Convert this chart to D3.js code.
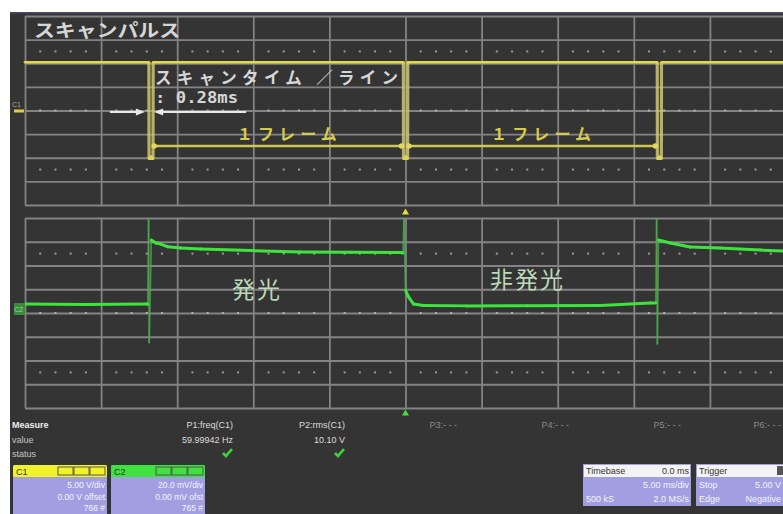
<!DOCTYPE html>
<html>
<head>
<meta charset="utf-8">
<script src="https://cdn.jsdelivr.net/npm/d3@7"></script>
<style>
  html, body { margin: 0; padding: 0; background: #ffffff; }
  svg { display: block; }
  .ui { font-family: "Liberation Sans", "DejaVu Sans", sans-serif; }
  .jp { font-family: "Noto Sans CJK JP", "Noto Sans", sans-serif; }
</style>
</head>
<body>
<svg id="scope" width="783" height="514"></svg>
<script>
// ---- Acquisition data -------------------------------------------------
// Time in ms relative to the trigger point, 5 ms/div, 10 divisions.
// C1: scan pulse (volts), 5.00 V/div
const c1Time  = [-25, -16.86, -16.85, -16.59, -16.58, -0.14, -0.13, 0.14, 0.15, 16.54, 16.55, 16.81, 16.82, 25.2];
const c1Volts = [10.2, 10.2, -10.2, -10.2, 10.2, 10.2, -10.2, -10.2, 10.2, 10.2, -10.2, -10.2, 10.2, 10.2];

// C2: light output (mV), 20.0 mV/div
const c2Time = [-25, -21, -17.0, -16.93, -16.88, -16.84, -16.7, -16.4, -16.08, -15.62, -14.76, -13.45,
                -10.17, -6.89, -3.61, -0.33, -0.16, -0.1, 0.0, 0.2, 0.52, 1.18, 4, 8, 12.8, 16.08,
                16.45, 16.5, 16.55, 16.62, 17.4, 18.7, 20.67, 23.3, 25.2];
const c2mV   = [7.6, 7.2, 7.5, 7.4, 80, -25.5, 61.5, 58.9, 58.0, 55.8, 54.7, 53.9,
                52.6, 51.4, 51.2, 50.9, 50.5, 80, 19, 13.5, 7.6, 6.3, 6.0, 6.2, 6.4, 8.4,
                8.5, 80, -26.5, 61.5, 59.0, 55.6, 54.7, 53.0, 52.0];

// Frame markers (ms): the scan pulse edges used by the annotations
const frameEdges = [-16.86, -0.13, 16.55];
const pulseWidthMs = 0.28;

// Grid divisions
const timeDivs = d3.range(-25, 26, 5);          // 5 ms/div
const c1Divs   = d3.range(-20, 21, 5);          // 5 V/div
const c2Divs   = d3.range(-80, 81, 20);         // 20 mV/div
const dotRowsDiv = [-2.5, 0, 2.5];              // rows carrying minor tick dots

// Labels
const titleText   = "スキャンパルス";
const scanLabel   = "スキャンタイム ／ライン";
const scanValue   = ": 0.28ms";
const frameLabel  = "１フレーム";
const litLabel    = "発光";
const unlitLabel  = "非発光";

const measureNames  = ["P1:freq(C1)", "P2:rms(C1)", "P3:- - -", "P4:- - -", "P5:- - -", "P6:- - -"];
const measureValues = ["59.99942 Hz", "10.10 V", "", "", "", ""];
const measureOk     = [true, true, false, false, false, false];

const chanNames  = ["C1", "C2"];
const chanScale  = ["5.00 V/div", "20.0 mV/div"];
const chanOffset = ["0.00 V offset", "0.00 mV ofst"];
const chanPoints = ["766 #", "765 #"];
const chanColors = ["#f2f22a", "#3fe23f"];

const timebaseRows = [["Timebase", "0.0 ms"], ["", "5.00 ms/div"], ["500 kS", "2.0 MS/s"]];
const triggerRows  = [["Trigger", ""], ["Stop", "5.00 V"], ["Edge", "Negative"]];

// ---- Layout -------------------------------------------------------------
const svg = d3.select("#scope");
const W = 783, H = 514;

svg.append("rect").attr("x", 10).attr("y", 12).attr("width", W - 10).attr("height", H - 12)
   .attr("fill", "#343434");
svg.append("rect").attr("x", 10).attr("y", 12).attr("width", W - 10).attr("height", 1.6)
   .attr("fill", "#4a4a66");

const x = d3.scaleLinear().domain([-25, 25]).range([25, 786]);
const yTop = d3.scaleLinear().domain([-20, 20]).range([205, 16]);
const yBot = d3.scaleLinear().domain([-80, 80]).range([408, 218]);

const gridColor = "#838383";

function drawGrid(y, divs, perDiv) {
  const g = svg.append("g");
  const [y0, y1] = y.range();
  // horizontal grid via axis ticks
  const hAxis = d3.axisLeft(y).tickValues(divs).tickSize(-(x.range()[1] - x.range()[0])).tickFormat("");
  const ha = g.append("g").attr("transform", `translate(${x.range()[0]},0)`).call(hAxis);
  ha.select(".domain").remove();
  ha.selectAll(".tick line").attr("stroke", gridColor).attr("stroke-width", 1.8);
  // vertical grid via axis ticks
  const vAxis = d3.axisTop(x).tickValues(timeDivs).tickSize(-(y0 - y1)).tickFormat("");
  const va = g.append("g").attr("transform", `translate(0,${y1})`).call(vAxis);
  va.select(".domain").remove();
  va.selectAll(".tick line").attr("stroke", gridColor).attr("stroke-width", 1.8);
  // minor tick dots (1/5 division)
  const minor = d3.range(-25, 25.01, 1).filter(t => Math.abs(t % 5) > 0.01);
  dotRowsDiv.forEach(d => {
    const yy = y(d * perDiv);
    g.selectAll(null).data(minor).join("rect")
      .attr("x", t => x(t) - 1).attr("y", yy - 1)
      .attr("width", 2).attr("height", 2)
      .attr("fill", d === 0 ? "#b0b0b0" : "#9a9a9a");
  });
}
drawGrid(yTop, c1Divs, 5);
drawGrid(yBot, c2Divs, 20);

// ---- Traces -------------------------------------------------------------
// Steep segments (fast edges) are drawn dimmer, as on a phosphor display.
function drawTrace(parent, times, vals, y, bright, dim, wBright, wDim) {
  const pts = times.map((t, i) => [x(t), y(vals[i])]);
  const segs = d3.pairs(pts);
  const steep = s => Math.abs(s[1][1] - s[0][1]) > 2.2 * Math.abs(s[1][0] - s[0][0]) + 2;
  parent.selectAll(null).data(segs.filter(steep)).join("line")
    .attr("x1", s => s[0][0]).attr("y1", s => s[0][1])
    .attr("x2", s => s[1][0]).attr("y2", s => s[1][1])
    .attr("stroke", dim).attr("stroke-width", wDim);
  parent.selectAll(null).data(segs.filter(s => !steep(s))).join("line")
    .attr("x1", s => s[0][0]).attr("y1", s => s[0][1])
    .attr("x2", s => s[1][0]).attr("y2", s => s[1][1])
    .attr("stroke", bright).attr("stroke-width", wBright).attr("stroke-linecap", "round");
}

svg.append("defs").append("clipPath").attr("id", "botclip")
   .append("rect").attr("x", 25).attr("y", 218).attr("width", 770).attr("height", 190);

drawTrace(svg.append("g"), c1Time, c1Volts, yTop, "#e4da3a", "rgba(206,200,108,0.85)", 2.6, 3.2);
drawTrace(svg.append("g").attr("clip-path", "url(#botclip)"), c2Time, c2mV, yBot,
          "#3ee43e", "rgba(78,170,78,0.8)", 3, 1.6);

// ---- Channel markers on the left edge -------------------------------------
svg.append("text").attr("class", "ui").attr("x", 12).attr("y", 107)
   .attr("font-size", 7).attr("fill", "#a8a890").text("C1");
svg.append("rect").attr("x", 14).attr("y", yTop(0) - 1).attr("width", 10).attr("height", 3)
   .attr("fill", "#d8d040");
svg.append("rect").attr("x", 14).attr("y", 303).attr("width", 11).attr("height", 12)
   .attr("fill", "#3c8a3c");
svg.append("text").attr("class", "ui").attr("x", 14).attr("y", 312)
   .attr("font-size", 7).attr("fill", "#9fd89f").text("C2");

// Trigger position markers
const tri = d3.symbol().type(d3.symbolTriangle).size(22);
svg.append("path").attr("d", tri).attr("transform", `translate(${x(0)},212.5)`).attr("fill", "#e6dc3c");
svg.append("path").attr("d", tri).attr("transform", `translate(${x(0)},413.5)`).attr("fill", "#3ee43e");

// ---- Annotations ----------------------------------------------------------
svg.append("text").attr("class", "jp").attr("x", 34).attr("y", 37)
   .attr("font-size", 18).attr("font-weight", 700).attr("fill", "#d6d6d6")
   .attr("textLength", 146).attr("lengthAdjust", "spacingAndGlyphs").text(titleText);

svg.append("text").attr("class", "jp").attr("x", 155).attr("y", 84)
   .attr("font-size", 16.5).attr("font-weight", 700).attr("fill", "#d6d6d6")
   .attr("textLength", 243).attr("lengthAdjust", "spacing").text(scanLabel);
svg.append("text").attr("x", 155).attr("y", 103)
   .attr("font-family", "DejaVu Sans Mono, monospace")
   .attr("font-size", 16).attr("font-weight", 700).attr("fill", "#d6d6d6")
   .attr("textLength", 83).attr("lengthAdjust", "spacingAndGlyphs").text(scanValue);

// white arrows pointing at the pulse edges
const arrowY = yTop(0) + 1.5;
function arrow(xFrom, xTo) {
  const dir = Math.sign(xTo - xFrom);
  svg.append("line").attr("x1", xFrom).attr("y1", arrowY).attr("x2", xTo - dir * 6).attr("y2", arrowY)
     .attr("stroke", "#e8e8e8").attr("stroke-width", 2);
  svg.append("path")
     .attr("d", `M${xTo},${arrowY} L${xTo - dir * 9},${arrowY - 3.5} L${xTo - dir * 9},${arrowY + 3.5} Z`)
     .attr("fill", "#e8e8e8");
}
arrow(x(frameEdges[0]) - 39, x(frameEdges[0]) - 4);
arrow(x(frameEdges[0] + pulseWidthMs) + 93, x(frameEdges[0] + pulseWidthMs) + 1);

// frame-period arrows
const frameY = 146;
d3.pairs(frameEdges).forEach(([a, b]) => {
  const xa = x(a + pulseWidthMs) + 1, xb = x(b) - 2;
  svg.append("line").attr("x1", xa).attr("y1", frameY).attr("x2", xb).attr("y2", frameY)
     .attr("stroke", "#cfc752").attr("stroke-width", 2.6);
  [xa, xb].forEach(xx => svg.append("circle").attr("cx", xx).attr("cy", frameY).attr("r", 2.8)
     .attr("fill", "#e0d85a"));
  svg.append("text").attr("class", "jp").attr("x", (xa + xb) / 2 + 9).attr("y", 140)
     .attr("text-anchor", "middle")
     .attr("font-size", 16).attr("font-weight", 700).attr("fill", "#d4cc4a")
     .attr("textLength", 100).attr("lengthAdjust", "spacing").text(frameLabel);
});
// pulse bottoms
frameEdges.forEach(t => svg.append("circle").attr("cx", x(t + pulseWidthMs / 2)).attr("cy", yTop(-10.2) - 1)
   .attr("r", 2.4).attr("fill", "#dcd45a"));

svg.append("text").attr("class", "jp").attr("x", 232).attr("y", 298)
   .attr("font-size", 23).attr("fill", "#bcd8b6")
   .attr("textLength", 48).attr("lengthAdjust", "spacing").text(litLabel);
svg.append("text").attr("class", "jp").attr("x", 490).attr("y", 288)
   .attr("font-size", 23).attr("fill", "#bcd8b6")
   .attr("textLength", 73).attr("lengthAdjust", "spacing").text(unlitLabel);

// ---- Measurement table ----------------------------------------------------
const info = svg.append("g").attr("class", "ui");
info.append("text").attr("x", 12).attr("y", 428).attr("font-size", 9).attr("font-weight", 700)
    .attr("fill", "#eeeeee").text("Measure");
info.append("text").attr("x", 12).attr("y", 443).attr("font-size", 9).attr("fill", "#c4c4c4").text("value");
info.append("text").attr("x", 12).attr("y", 457).attr("font-size", 9).attr("fill", "#c4c4c4").text("status");

measureNames.forEach((n, i) => {
  const xr = Math.min(233 + 112 * i, 781);
  const active = measureValues[i] !== "";
  info.append("text").attr("x", xr).attr("y", 428).attr("text-anchor", "end")
      .attr("font-size", 9).attr("fill", active ? "#dddddd" : "#8a8a8a").text(n);
  if (active) {
    info.append("text").attr("x", xr).attr("y", 443).attr("text-anchor", "end")
        .attr("font-size", 9).attr("fill", "#dddddd").text(measureValues[i]);
  }
  if (measureOk[i]) {
    info.append("path").attr("d", `M${xr - 10},${453} L${xr - 7},${456} L${xr - 1},${449}`)
        .attr("fill", "none").attr("stroke", "#3fcf3f").attr("stroke-width", 2.6);
  }
});

// ---- Channel descriptor boxes ---------------------------------------------
const lav = "#a19fe2";
chanNames.forEach((c, i) => {
  const bx = 13 + 98 * i, bw = 94, by = 465;
  const g = svg.append("g").attr("class", "ui");
  g.append("rect").attr("x", bx).attr("y", by).attr("width", bw).attr("height", 60).attr("rx", 2)
   .attr("fill", lav);
  g.append("rect").attr("x", bx).attr("y", by).attr("width", bw).attr("height", 12).attr("rx", 2)
   .attr("fill", chanColors[i]);
  g.append("text").attr("x", bx + 3).attr("y", by + 9.5).attr("font-size", 9).attr("fill", "#333").text(c);
  // header icons
  [0, 1, 2].forEach(k => {
    g.append("rect").attr("x", bx + 45 + k * 16).attr("y", by + 2).attr("width", 15).attr("height", 8)
     .attr("fill", "none").attr("stroke", "#555").attr("stroke-width", 1);
  });
  g.append("text").attr("x", bx + bw - 2).attr("y", by + 23).attr("text-anchor", "end")
   .attr("font-size", 8.5).attr("fill", "#f4f4ff").text(chanScale[i]);
  g.append("text").attr("x", bx + bw - 2).attr("y", by + 35).attr("text-anchor", "end")
   .attr("font-size", 8.5).attr("fill", "#f4f4ff").text(chanOffset[i]);
  g.append("text").attr("x", bx + bw - 2).attr("y", by + 46).attr("text-anchor", "end")
   .attr("font-size", 8.5).attr("fill", "#f4f4ff").text(chanPoints[i]);
});

function statusBox(bx, bw, rows, rightX) {
  const by = 464;
  const g = svg.append("g").attr("class", "ui");
  g.append("rect").attr("x", bx).attr("y", by).attr("width", bw).attr("height", 42).attr("fill", lav);
  g.append("rect").attr("x", bx + 1).attr("y", by + 1).attr("width", bw - 2).attr("height", 12).attr("fill", "#f4f4f4");
  rows.forEach((r, i) => {
    const yy = by + 10 + i * 14;
    const col = i === 0 ? "#333" : "#f4f4ff";
    if (r[0]) g.append("text").attr("x", bx + 3).attr("y", yy).attr("font-size", 9).attr("fill", col).text(r[0]);
    if (r[1]) g.append("text").attr("x", rightX).attr("y", yy).attr("text-anchor", "end")
                .attr("font-size", 9).attr("fill", col).text(r[1]);
  });
  return g;
}
statusBox(583, 108, timebaseRows, 689);
const trig = statusBox(696, 100, [triggerRows[0]], 0);
trig.append("text").attr("x", 699).attr("y", 488).attr("font-size", 9).attr("fill", "#f4f4ff").text(triggerRows[1][0]);
trig.append("text").attr("x", 781).attr("y", 488).attr("text-anchor", "end").attr("font-size", 9).attr("fill", "#f4f4ff").text(triggerRows[1][1]);
trig.append("text").attr("x", 699).attr("y", 502).attr("font-size", 9).attr("fill", "#f4f4ff").text(triggerRows[2][0]);
trig.append("text").attr("x", 781).attr("y", 502).attr("text-anchor", "end").attr("font-size", 9).attr("fill", "#f4f4ff").text(triggerRows[2][1]);
trig.append("rect").attr("x", 777).attr("y", 466).attr("width", 6).attr("height", 9).attr("fill", "#555");
</script>
</body>
</html>
